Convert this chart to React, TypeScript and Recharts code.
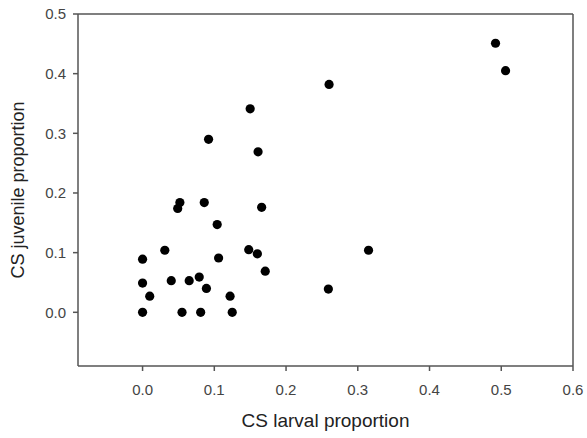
import {
  ScatterChart,
  Scatter,
  XAxis,
  YAxis,
  ReferenceLine,
} from "recharts";

// CS larval proportion (x) vs CS juvenile proportion (y)
const larval = [
  0.0, 0.0, 0.0, 0.01, 0.031, 0.04, 0.055, 0.065, 0.079, 0.081,
  0.089, 0.106, 0.104, 0.122, 0.125, 0.148, 0.16, 0.171, 0.166, 0.049,
  0.052, 0.086, 0.092, 0.15, 0.161, 0.26, 0.492, 0.506, 0.315, 0.259,
];
const juvenile = [
  0.089, 0.049, 0.0, 0.027, 0.104, 0.053, 0.0, 0.053, 0.059, 0.0,
  0.04, 0.091, 0.147, 0.027, 0.0, 0.105, 0.098, 0.069, 0.176, 0.174,
  0.184, 0.184, 0.29, 0.341, 0.269, 0.382, 0.451, 0.405, 0.104, 0.039,
];
const xTicks = [0, 0.1, 0.2, 0.3, 0.4, 0.5, 0.6];
const yTicks = [0, 0.1, 0.2, 0.3, 0.4, 0.5];

const points = larval.map((x, i) => ({ x, y: juvenile[i] }));

const font = "Liberation Sans, Arial, sans-serif";
const axisColor = "#555";
const tickStyle = { fill: "#444", fontSize: 15, fontFamily: font };
const labelStyle = { fill: "#222", fontSize: 18, fontFamily: font };

export default function App() {
  return (
    <div style={{ position: "absolute", left: 0, top: 0, background: "#fff" }}>
      <ScatterChart
        width={587}
        height={438}
        margin={{ top: 14, right: 14, bottom: 0, left: 0 }}
      >
        <XAxis
          type="number"
          dataKey="x"
          domain={[-0.09, 0.6]}
          ticks={xTicks}
          tickFormatter={(v: number) => v.toFixed(1)}
          allowDataOverflow
          height={72}
          stroke={axisColor}
          strokeWidth={1.5}
          tickSize={5}
          tick={tickStyle}
          tickMargin={13}
          label={{
            value: "CS larval proportion",
            position: "insideBottom",
            offset: 11,
            style: { ...labelStyle, fontSize: 19 },
          }}
        />
        <YAxis
          type="number"
          dataKey="y"
          domain={[-0.09, 0.5]}
          ticks={yTicks}
          tickFormatter={(v: number) => v.toFixed(1)}
          allowDataOverflow
          width={78}
          stroke={axisColor}
          strokeWidth={1.5}
          tickSize={5}
          tick={tickStyle}
          tickMargin={7}
          label={{
            value: "CS juvenile proportion",
            angle: -90,
            position: "insideLeft",
            offset: 18,
            style: { ...labelStyle, textAnchor: "middle" },
          }}
        />
        <ReferenceLine y={0.5} stroke={axisColor} strokeWidth={1.5} ifOverflow="extendDomain" />
        <ReferenceLine x={0.6} stroke={axisColor} strokeWidth={1.5} ifOverflow="extendDomain" />
        <Scatter
          data={points}
          fill="#000"
          isAnimationActive={false}
          shape={(p: any) => <circle cx={p.cx} cy={p.cy} r={4.6} fill="#000" />}
        />
      </ScatterChart>
    </div>
  );
}
